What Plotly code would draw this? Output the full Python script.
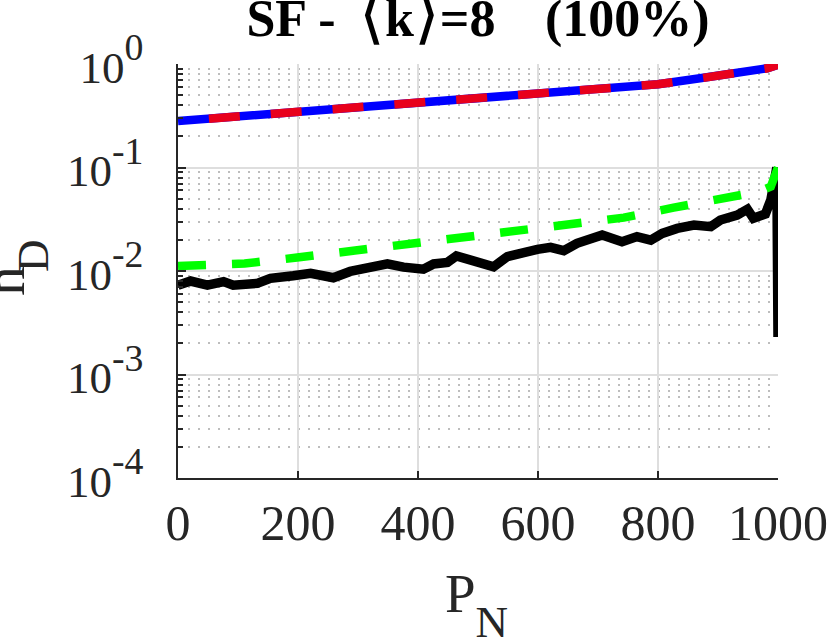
import plotly.graph_objects as go

# theoretical curve (blue solid / red dashed overlay)
p_theory = [0, 100, 200, 300, 400, 500, 600, 700, 800, 870, 900, 937, 960, 982, 1000]
n_theory = [0.281, 0.312, 0.346, 0.387, 0.432, 0.475, 0.521, 0.575, 0.637, 0.727,
            0.765, 0.824, 0.86, 0.909, 0.985]

# green dashed curve
p_green = [0, 111, 202, 294, 383, 473, 565, 654, 743, 826, 909, 968, 988, 1000]
n_green = [0.0112, 0.0118, 0.01355, 0.0158, 0.0177, 0.0207, 0.0237, 0.0285, 0.0328,
           0.0409, 0.0493, 0.0584, 0.0653, 0.100]

# black simulated curve
p_sim = [0, 21, 49, 76, 92, 132, 154, 176, 192, 221, 259, 287, 321, 349, 376, 409,
         426, 449, 464, 488, 509, 526, 549, 571, 599, 621, 643, 665, 688, 707, 740,
         765, 788, 807, 832, 860, 888, 904, 932, 949, 959, 979, 988, 993, 998, 1000]
n_sim = [0.0073, 0.0080, 0.0073, 0.0079, 0.0073, 0.0076, 0.0085, 0.0086, 0.0090,
         0.0095, 0.0086, 0.0099, 0.0109, 0.0117, 0.0109, 0.0104, 0.0117, 0.0121,
         0.0140, 0.0130, 0.0120, 0.0110, 0.0138, 0.0150, 0.0162, 0.0169, 0.0157,
         0.0185, 0.0207, 0.0223, 0.0192, 0.0215, 0.0199, 0.0231, 0.0258, 0.0278,
         0.0268, 0.0311, 0.0347, 0.0395, 0.0323, 0.0356, 0.0485, 0.0815, 0.100,
         0.0023]

y_ticks = [1e-4, 1e-3, 1e-2, 1e-1, 1]
y_exps = ['-4', '-3', '-2', '-1', '0']
y_ticktext = ['<span style="font-size:45px">10</span><sup>%s</sup>' % e for e in y_exps]
y_minor = [m * 10 ** e for e in range(-4, 0) for m in range(2, 10)]

br = '<span style="font-weight:normal;font-size:66px">%s</span>'
title_text = ('<b>SF -\u00a0\u2009' + br % '\u27e8' + 'k' + br % '\u27e9'
              + '=8\u2002\u00a0\u2009(100%)</b>')

fig = go.Figure()

fig.add_trace(go.Scatter(x=p_theory, y=n_theory, mode='lines',
                         line=dict(color='#0000ff', width=8.5)))
fig.add_trace(go.Scatter(x=p_theory, y=n_theory, mode='lines',
                         line=dict(color='#e8001c', width=8.5, dash='0px,31px,31px,0px')))
fig.add_trace(go.Scatter(x=p_sim, y=n_sim, mode='lines',
                         line=dict(color='black', width=9.5)))
fig.add_trace(go.Scatter(x=p_green, y=n_green, mode='lines',
                         line=dict(color='#00ff00', width=8.5, dash='28px,26px')))

font = 'Liberation Serif, Times New Roman, serif'

fig.update_layout(
    width=830, height=644,
    showlegend=False,
    plot_bgcolor='white', paper_bgcolor='white',
    margin=dict(l=178, r=52, t=64, b=166, autoexpand=False),
    font=dict(family=font, size=50, color='#262626'),
    title=dict(text=title_text,
               x=0.5, xref='paper', xanchor='center',
               y=0.9724, yanchor='middle', yref='container',
               font=dict(family=font, size=52, color='black')),
    xaxis=dict(
        range=[0, 1000], tickvals=[0, 200, 400, 600, 800, 1000],
        showline=True, linecolor='#262626', linewidth=1.5, mirror=False,
        ticks='inside', ticklen=7, tickcolor='#262626', tickwidth=1.5,
        showgrid=True, gridcolor='#dedede', gridwidth=1.5, zeroline=False,
        ticklabelstandoff=0, ticklabeloverflow='allow', automargin=False,
        tickfont=dict(family=font, size=50, color='#262626'),
    ),
    yaxis=dict(
        type='log', range=[-4, 0],
        tickmode='array', tickvals=y_ticks, ticktext=y_ticktext,
        showline=True, linecolor='#262626', linewidth=1.5, mirror=False,
        ticks='inside', ticklen=8, tickcolor='#262626', tickwidth=1.5,
        showgrid=True, gridcolor='#dedede', gridwidth=1.5, zeroline=False,
        ticklabelstandoff=22, automargin=False,
        tickfont=dict(family=font, size=54, color='#262626'),
        minor=dict(tickmode='array', tickvals=y_minor, ticks='inside', ticklen=5,
                   tickcolor='#262626', showgrid=True, gridcolor='#bdbdbd',
                   griddash='2px,8px', gridwidth=2),
    ),
    annotations=[
        # x axis label P_N
        dict(text='<span style="font-size:55px">P</span><sub><span style="font-size:45px">N</span></sub>',
             xref='paper', yref='paper', x=0.4975, y=0, xanchor='center', yanchor='top',
             yshift=-83, showarrow=False,
             font=dict(family=font, size=119, color='#262626')),
        # y axis label n_D, base letter and subscript placed separately
        dict(text='n', xref='paper', yref='paper', x=0, y=0.476,
             xanchor='center', yanchor='middle', xshift=-174, textangle=-90,
             showarrow=False, font=dict(family=font, size=60, color='#262626')),
        dict(text='D', xref='paper', yref='paper', x=0, y=0.536,
             xanchor='center', yanchor='middle', xshift=-145, textangle=-90,
             showarrow=False, font=dict(family=font, size=45, color='#262626')),
    ],
)

# drop the default 8px page margin so the 830x644 figure fills the window exactly
fig.write_html("out.html", config={'displayModeBar': False},
               post_script="document.body.style.margin='0px';")
